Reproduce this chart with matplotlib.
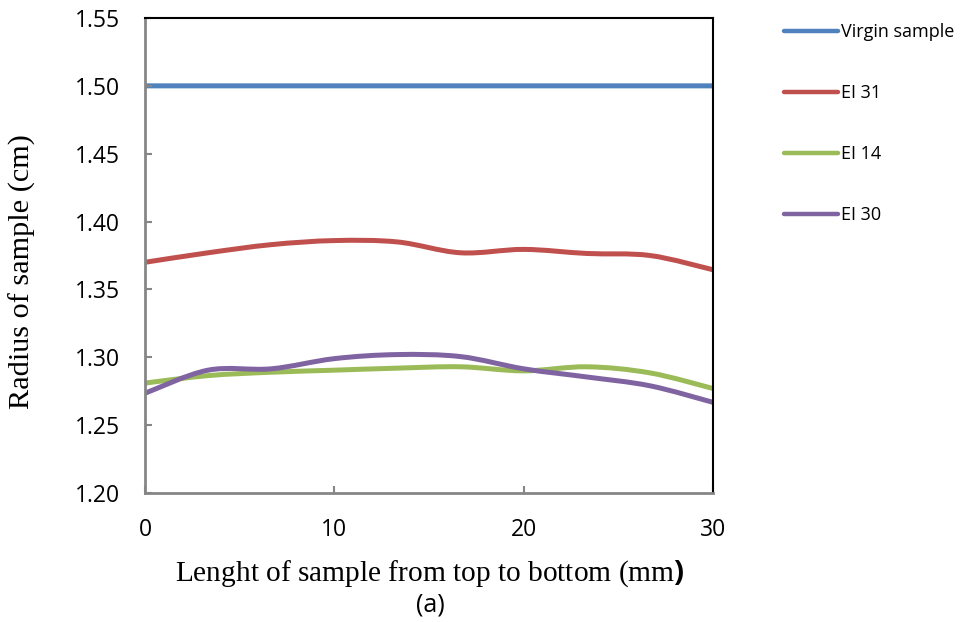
import matplotlib
matplotlib.use("Agg")
import matplotlib.pyplot as plt
from matplotlib.path import Path
from matplotlib.patches import PathPatch
from matplotlib.lines import Line2D
import numpy as np

# positions along the sample (mm) and measured radius (cm)
length_mm = [0, 3.33, 6.67, 10, 13.33, 16.67, 20, 23.33, 26.67, 30]
virgin = [1.50, 1.50, 1.50, 1.50, 1.50, 1.50, 1.50, 1.50, 1.50, 1.50]
ei31 = [1.370, 1.377, 1.383, 1.386, 1.385, 1.377, 1.3795, 1.3765, 1.375, 1.3645]
ei14 = [1.281, 1.2865, 1.289, 1.2905, 1.292, 1.293, 1.290, 1.293, 1.2885, 1.277]
ei30 = [1.2735, 1.2905, 1.2915, 1.299, 1.302, 1.3005, 1.2915, 1.2855, 1.279, 1.2668]

series_names = ["Virgin sample", "EI 31", "EI 14", "EI 30"]
series_values = [virgin, ei31, ei14, ei30]
colors = ["#4F81BD", "#C0504D", "#9BBB59", "#8064A2"]

plt.rcParams['mathtext.fontset'] = 'custom'
plt.rcParams['mathtext.bf'] = 'Open Sans:bold'


def smooth_path(x, y):
    # excel-like smoothed line: catmull-rom segments as cubic beziers
    pts = np.column_stack([x, y]).astype(float)
    n = len(pts)
    verts = [pts[0]]
    codes = [Path.MOVETO]
    for i in range(n - 1):
        p0 = pts[i - 1] if i > 0 else pts[i]
        p1 = pts[i]
        p2 = pts[i + 1]
        p3 = pts[i + 2] if i + 2 < n else pts[i + 1]
        c1 = p1 + (p2 - p0) / 6.0
        c2 = p2 - (p3 - p1) / 6.0
        verts += [c1, c2, p2]
        codes += [Path.CURVE4] * 3
    return Path(verts, codes)


fig = plt.figure(figsize=(9.62, 6.22), dpi=100)
ax = fig.add_axes([145 / 962, 1 - 493 / 622, (713 - 145) / 962, (493 - 18) / 622])

handles = []
for name, vals, c in zip(series_names, series_values, colors):
    patch = PathPatch(smooth_path(length_mm, vals), facecolor='none', edgecolor=c,
                      lw=3.6, capstyle='butt', joinstyle='round', transform=ax.transData)
    ax.add_patch(patch)
    handles.append(Line2D([], [], color=c, lw=3.2, solid_capstyle='round'))

ax.set_xlim(0, 30)
ax.set_ylim(1.20, 1.55)
ax.set_xticks([0, 10, 20, 30])
ax.set_yticks(np.arange(1.20, 1.551, 0.05))
ax.set_yticklabels(["%.2f" % v for v in np.arange(1.20, 1.551, 0.05)])

for side in ['left', 'bottom']:
    ax.spines[side].set_color('#868686')
    ax.spines[side].set_linewidth(2)
for side in ['top', 'right']:
    ax.spines[side].set_color('black')
    ax.spines[side].set_linewidth(1.5)

ax.tick_params(axis='both', direction='in', length=5, width=1.5, color='#868686',
               labelsize=16.5)
ax.tick_params(axis='x', pad=18)
ax.tick_params(axis='y', pad=18)
for lab in ax.get_xticklabels() + ax.get_yticklabels():
    lab.set_family('Open Sans')

fig.text(22 / 962, 1 - 272 / 622, 'Radius of sample (cm)', family='Liberation Serif',
         fontsize=21.8, rotation=90, ha='center', va='center')
fig.text(430 / 962, 1 - 574 / 622, r'Lenght of sample from top to bottom (mm$\mathbf{)}$',
         family='Liberation Serif', fontsize=21.2, ha='center', va='center')
fig.text(430 / 962, 1 - 605 / 622, '(a)', family='Open Sans', fontsize=18,
         ha='center', va='center')

fig.legend(handles, series_names, loc='upper left', bbox_to_anchor=(768 / 962, 1 - 7 / 622),
           frameon=False, prop={'family': 'Open Sans', 'size': 13},
           handlelength=3.0, handletextpad=0.15, labelspacing=2.38)

fig.savefig('out.png', dpi=100)
